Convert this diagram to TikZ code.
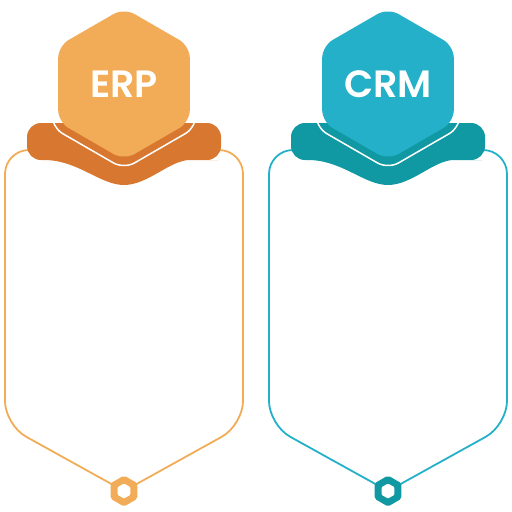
\documentclass[tikz,border=0pt]{standalone}
\usepackage{fontspec}
\newfontfamily\hexfont{Poppins}[BoldFont={Poppins SemiBold}]
\usetikzlibrary{shapes.geometric}
\definecolor{erplight}{HTML}{F2AC57}
\definecolor{erpdark}{HTML}{D87830}
\definecolor{crmlight}{HTML}{23B0C8}
\definecolor{crmdark}{HTML}{1098A3}

\begin{document}
\begin{tikzpicture}[x=1pt,y=-1pt,
		bighex/.style={regular polygon,regular polygon sides=6,shape border rotate=30,
			minimum size=152pt,inner sep=0pt,rounded corners=12pt,text=white,
			font=\hexfont\bfseries\fontsize{38}{42}\selectfont},
		ringhex/.style={regular polygon,regular polygon sides=6,shape border rotate=30,
			minimum size=166pt,inner sep=0pt,draw=white,line width=1.5pt,rounded corners=12pt},
		dothex/.style={regular polygon,regular polygon sides=6,shape border rotate=30,
			minimum size=31pt,inner sep=0pt,rounded corners=2pt},
		holehex/.style={regular polygon,regular polygon sides=6,shape border rotate=30,
			minimum size=15pt,inner sep=0pt,fill=white,rounded corners=1pt},
		frame/.style={line width=1.8pt,rounded corners=24pt}
		]
		\useasboundingbox (0,0) rectangle (512,512);

		\coordinate (dotERPc) at (124,491);
		\draw[frame,erplight] (40,150) -- (5,150) -- (5,425) -- (dotERPc);
		\draw[frame,erplight] (208,150) -- (243,150) -- (243,425) -- (dotERPc);
		\fill[erpdark] (124,123) [rounded corners=14pt] -- (221,123) -- (221,160) -- (204,160)
			[sharp corners] .. controls (170,160) and (148,185) .. (124,185)
			.. controls (100,185) and (78,160) .. (44,160)
			[rounded corners=14pt] -- (27,160) -- (27,123) -- cycle;
		\node[ringhex] (ringERP) at (124,86) {};
		\node[bighex,fill=erplight] (hexERP) at (124,84) {ERP};
		\node[dothex,fill=erplight] (dotERP) at (dotERPc) {};
		\node[holehex] (holeERP) at (dotERP) {};

		\coordinate (dotCRMc) at (388,491);
		\draw[frame,crmlight] (304,150) -- (269,150) -- (269,425) -- (dotCRMc);
		\draw[frame,crmlight] (472,150) -- (507,150) -- (507,425) -- (dotCRMc);
		\fill[crmdark] (388,123) [rounded corners=14pt] -- (485,123) -- (485,160) -- (468,160)
			[sharp corners] .. controls (434,160) and (412,185) .. (388,185)
			.. controls (364,185) and (342,160) .. (308,160)
			[rounded corners=14pt] -- (291,160) -- (291,123) -- cycle;
		\node[ringhex] (ringCRM) at (388,86) {};
		\node[bighex,fill=crmlight] (hexCRM) at (388,84) {CRM};
		\node[dothex,fill=crmdark] (dotCRM) at (dotCRMc) {};
		\node[holehex] (holeCRM) at (dotCRM) {};
	\end{tikzpicture}
\end{document}
